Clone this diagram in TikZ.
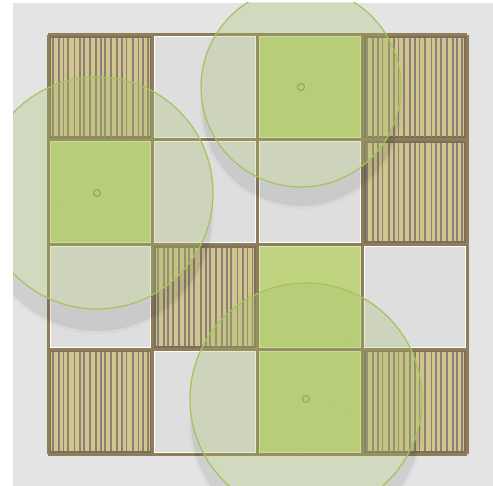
\documentclass[tikz,border=0pt]{standalone}
\usepackage{xcolor}
\usepackage{tikz}

\definecolor{groundgrey}{HTML}{E4E4E4}
\definecolor{pavegrey}{HTML}{DEDEDE}
\definecolor{framebrown}{HTML}{8F7D5A}
\definecolor{deckbrown}{HTML}{7D6E58}
\definecolor{decktan}{HTML}{D3C48C}
\definecolor{slatgrey}{HTML}{86827A}
\definecolor{lawngreen}{HTML}{C0D37E}
\definecolor{canopy}{HTML}{A8C06C}
\definecolor{canopyline}{HTML}{A4C25E}
\definecolor{trunkgreen}{HTML}{8A9C58}

\begin{document}
\begin{tikzpicture}[
    x=1pt, y=-1pt,
    pave/.style={fill=pavegrey, draw=white, line width=1pt},
    lawn/.style={fill=lawngreen, draw=lawngreen!55!white, line width=1pt},
    deck/.style={fill=decktan, draw=deckbrown, line width=2.5pt},
    slat/.style={slatgrey, line width=1.8pt},
    frame/.style={framebrown, line width=3pt},
    crown/.style={fill=canopy, fill opacity=0.3, draw=canopyline, line width=1.2pt},
    shade/.style={fill=black, opacity=0.065},
    trunkmark/.style={draw=trunkgreen, line width=0.8pt}
]

\useasboundingbox (0,0) rectangle (493,486);
\clip (13,3) rectangle (493,486);
\fill[groundgrey] (13,3) rectangle (493,486);

% Cells
\foreach \c/\r/\kind in {0/0/deck,1/0/pave,2/0/lawn,3/0/deck,
                         0/1/lawn,1/1/pave,2/1/pave,3/1/deck,
                         0/2/pave,1/2/deck,2/2/lawn,3/2/pave,
                         0/3/deck,1/3/pave,2/3/lawn,3/3/deck}
    \path[\kind] ({48+104.75*\c+2},{35+104.75*\r+2}) rectangle ++(100.75,100.75);

% Slats on the decking
\foreach \c/\r in {0/0,3/0,3/1,1/2,0/3,3/3}
    \foreach \k in {0,...,18}
        \draw[slat] ({48+104.75*\c+5+\k*5.3+0.7*sin(\k*97)},{35+104.75*\r+3}) -- ++(0,98.75);

% Speckles on the lawn
\pgfmathsetseed{11}
\foreach \c/\r in {2/0,0/1,2/2,2/3}
    \foreach \s in {1,...,45}
        \fill[trunkgreen, opacity=0.45] ({48+104.75*\c+5+95*rnd},{35+104.75*\r+5+95*rnd}) circle (0.45);

% Frame
\foreach \i in {0,...,4} {
    \draw[frame] ({48+104.75*\i},35) -- ++(0,419);
    \draw[frame] (48,{35+104.75*\i}) -- ++(419,0);
}

% Trees
\coordinate (treeA) at (301,87);
\coordinate (treeB) at (97,193);
\coordinate (treeC) at (306,399);

% shadows, only outside the crowns
\foreach \t/\rad/\off in {treeA/100/21, treeB/116/24, treeC/116/24} {
    \begin{scope}[even odd rule]
        \clip (-50,-50) rectangle (543,536) (\t) circle (\rad);
        \fill[shade] ([yshift=-\off pt+1pt]\t) circle (\rad-1);
        \fill[shade, opacity=0.025] ([yshift=-\off pt]\t) circle (\rad+1);
    \end{scope}
}

\path[crown] (treeA) circle (100);
\path[crown] (treeB) circle (116);
\path[crown] (treeC) circle (116);

\draw[trunkmark] (treeA) circle (3.5);
\draw[trunkmark] (treeB) circle (3.5);
\draw[trunkmark] (treeC) circle (3.5);

\end{tikzpicture}
\end{document}
